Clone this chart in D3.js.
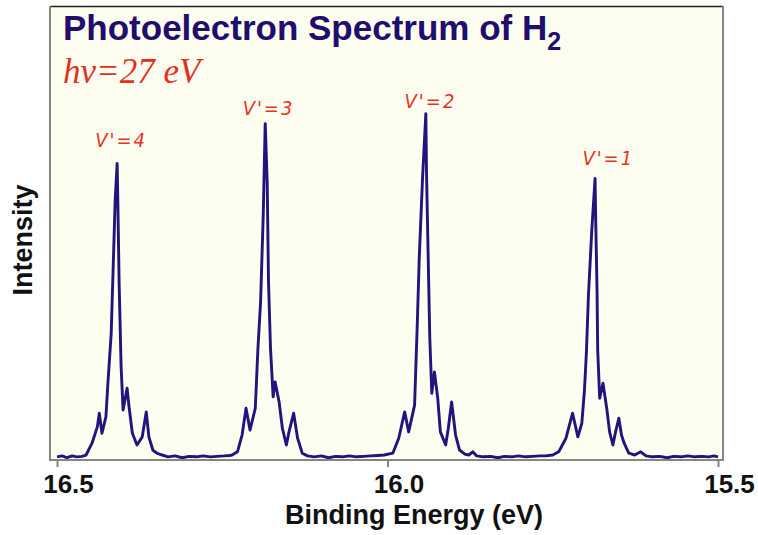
<!DOCTYPE html>
<html lang="en">

<head>
    <meta charset="UTF-8">
    <title>Photoelectron Spectrum of H2</title>
    <script src="https://d3js.org/d3.v7.min.js"></script>
    <style>
        body { margin: 0; background: #ffffff; }
        .axis text { font-family: "Liberation Sans", Arial, sans-serif; font-weight: bold; }
    </style>
</head>

<body>
    <div id="chart"></div>
    <script>
        // binding energy (eV) and intensity (arbitrary counts)
        const energy = [
            16.500, 16.492, 16.485, 16.477, 16.470, 16.462, 16.456,
            16.447, 16.439, 16.436, 16.432, 16.426, 16.423, 16.418, 16.415, 16.412, 16.409, 16.408,
            16.406, 16.403, 16.400, 16.394, 16.391, 16.386, 16.379, 16.371, 16.365, 16.361, 16.355, 16.349,
            16.341, 16.332, 16.321, 16.311, 16.300, 16.289, 16.279, 16.268, 16.258, 16.247, 16.239,
            16.235, 16.227, 16.220, 16.214, 16.208, 16.200, 16.196, 16.192, 16.188, 16.185, 16.182, 16.180,
            16.177, 16.173, 16.170, 16.164, 16.159, 16.153, 16.149, 16.142, 16.136, 16.129, 16.121,
            16.111, 16.100, 16.089, 16.079, 16.068, 16.058, 16.047, 16.036, 16.026, 16.015, 16.005,
            15.992, 15.983, 15.974, 15.968, 15.959, 15.955, 15.952, 15.947, 15.942, 15.941, 15.938, 15.936,
            15.933, 15.929, 15.924, 15.920, 15.912, 15.908, 15.903, 15.897, 15.891, 15.883, 15.877, 15.871, 15.865,
            15.855, 15.844, 15.833, 15.823, 15.812, 15.802, 15.791, 15.780, 15.770, 15.761,
            15.750, 15.741, 15.730, 15.720, 15.712, 15.706, 15.702, 15.699, 15.696, 15.691, 15.686, 15.685,
            15.683, 15.682, 15.679, 15.674, 15.668, 15.664, 15.659, 15.655, 15.650, 15.646, 15.642, 15.635,
            15.626, 15.617, 15.609,
            15.599, 15.588, 15.577, 15.567, 15.556, 15.546, 15.535, 15.524, 15.514, 15.506, 15.500
        ];
        const intensity = [
            7, 9, 5, 9, 7, 8, 11,
            37, 73, 103, 59, 95, 169, 279, 425, 572, 653, 572,
            389, 205, 110, 158, 117, 59, 33, 51, 106, 51, 22, 15,
            11, 7, 9, 5, 8, 7, 9, 7, 8, 9, 10,
            11, 18, 55, 114, 66, 114, 246, 348, 539, 741, 612, 392,
            246, 139, 172, 128, 70, 33, 62, 103, 48, 15, 9,
            7, 9, 5, 8, 7, 9, 7, 8, 9, 10, 11,
            15, 48, 106, 62, 121, 297, 444, 620, 763, 634, 414, 268,
            147, 194, 136, 62, 33, 70, 128, 55, 22, 13, 11, 18, 9,
            7, 8, 5, 8, 7, 9, 7, 8, 9, 9,
            11, 18, 48, 103, 51, 81, 154, 240, 363, 504, 620, 528,
            374, 242, 136, 169, 110, 62, 33, 62, 92, 55, 37, 15,
            11, 18, 9,
            7, 8, 5, 8, 7, 9, 7, 8, 7, 9, 7
        ];

        // vibrational level labels and where they sit
        const levelLabels = ["V'=4", "V'=3", "V'=2", "V'=1"];
        const levelEnergy = [16.403, 16.180, 15.935, 15.666];
        const levelIntensity = [690, 760, 775, 650];

        const tickValues = [16.5, 16.0, 15.5];

        const width = 758, height = 535;
        const frame = { left: 50, right: 723, top: 6, bottom: 460 };

        const svg = d3.select("#chart").append("svg")
            .attr("width", width)
            .attr("height", height);

        const x = d3.scaleLinear().domain([16.5, 15.5]).range([57, 718]);
        const y = d3.scaleLinear().domain([0, 1000]).range([frame.bottom, frame.top]);

        // plot background + frame
        svg.append("rect")
            .attr("x", frame.left).attr("y", frame.top)
            .attr("width", frame.right - frame.left)
            .attr("height", frame.bottom - frame.top)
            .attr("fill", "#fefef0");

        svg.append("line")
            .attr("x1", frame.left).attr("x2", frame.right)
            .attr("y1", frame.top + 0.5).attr("y2", frame.top + 0.5)
            .attr("stroke", "#222").attr("stroke-width", 1.5);
        [frame.left, frame.right].forEach(px => {
            svg.append("line")
                .attr("x1", px).attr("x2", px)
                .attr("y1", frame.top).attr("y2", frame.bottom)
                .attr("stroke", "#858585").attr("stroke-width", 2);
        });

        // spectrum
        const points = energy.map((e, i) => [e, intensity[i]]);
        const line = d3.line()
            .x(d => x(d[0]))
            .y(d => y(d[1]));

        svg.append("path")
            .datum(points)
            .attr("fill", "none")
            .attr("stroke", "#23137c")
            .attr("stroke-width", 2.9)
            .attr("stroke-linejoin", "round")
            .attr("d", line);

        // x axis
        const xAxis = svg.append("g")
            .attr("class", "axis")
            .attr("transform", `translate(0,${frame.bottom})`)
            .call(d3.axisBottom(x).tickValues(tickValues).tickFormat(d3.format(".1f")).tickSize(7).tickSizeOuter(0));
        xAxis.select(".domain").remove();
        xAxis.selectAll(".tick line").attr("stroke", "#858585").attr("stroke-width", 2);
        xAxis.selectAll(".tick text")
            .attr("y", 33).attr("dy", 0).attr("dx", 11)
            .attr("font-size", 26).attr("fill", "#111");

        svg.append("line")
            .attr("x1", frame.left - 1).attr("x2", frame.right + 1)
            .attr("y1", frame.bottom).attr("y2", frame.bottom)
            .attr("stroke", "#858585").attr("stroke-width", 2);

        // axis titles
        svg.append("text")
            .attr("x", 414).attr("y", 524)
            .attr("text-anchor", "middle")
            .attr("font-family", "Liberation Sans, Arial, sans-serif")
            .attr("font-weight", "bold").attr("font-size", 27)
            .attr("fill", "#111")
            .text("Binding Energy (eV)");

        svg.append("text")
            .attr("transform", "translate(32,240) rotate(-90)")
            .attr("text-anchor", "middle")
            .attr("font-family", "Liberation Sans, Arial, sans-serif")
            .attr("font-weight", "bold").attr("font-size", 27)
            .attr("fill", "#111")
            .text("Intensity");

        // title
        const title = svg.append("text")
            .attr("x", 63).attr("y", 40)
            .attr("font-family", "Liberation Sans, Arial, sans-serif")
            .attr("font-weight", "bold").attr("font-size", 35)
            .attr("fill", "#200d6e")
            .text("Photoelectron Spectrum of H");
        title.append("tspan")
            .attr("font-size", 25).attr("dy", 10)
            .text("2");

        svg.append("text")
            .attr("x", 63).attr("y", 83)
            .attr("font-family", "Liberation Serif, Times New Roman, serif")
            .attr("font-style", "italic").attr("font-size", 35)
            .attr("fill", "#e3301c")
            .text("hν=27 eV");

        // peak labels
        svg.selectAll(".level")
            .data(levelLabels)
            .join("text")
            .attr("class", "level")
            .attr("x", (d, i) => x(levelEnergy[i]))
            .attr("y", (d, i) => y(levelIntensity[i]))
            .attr("text-anchor", "middle")
            .attr("font-family", "DejaVu Sans Condensed, DejaVu Sans, sans-serif")
            .attr("font-style", "italic").attr("font-size", 20)
            .attr("letter-spacing", 2)
            .attr("fill", "#e8321e")
            .text(d => d);
    </script>
</body>

</html>
